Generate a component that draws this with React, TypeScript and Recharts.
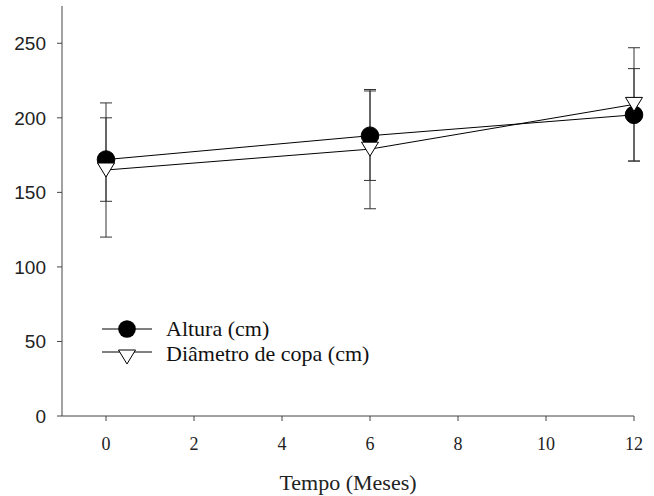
import React from "react";
import {
  LineChart,
  Line,
  XAxis,
  YAxis,
  ErrorBar,
  Legend,
} from "recharts";

const months = [0, 6, 12];
const altura = [172, 188, 202];
const alturaErr = [28, 30, 31];
const copa = [165, 179, 209];
const copaErr = [45, 40, 38];

const xTicks = [0, 2, 4, 6, 8, 10, 12];
const yTicks = [0, 50, 100, 150, 200, 250];

const data = months.map((m, i) => ({
  mes: m,
  altura: altura[i],
  alturaErr: alturaErr[i],
  copa: copa[i],
  copaErr: copaErr[i],
}));

const AXIS = "#444";
const SERIF = "'Liberation Serif', 'Times New Roman', serif";
const SANS = "'Liberation Sans', Arial, sans-serif";

function CircleDot(props: any) {
  const { cx, cy, index } = props;
  if (cx == null || cy == null) return null;
  return <circle key={`c-${index}`} cx={cx} cy={cy} r={8.8} fill="#000" stroke="#000" />;
}

function triPoints(cx: number, cy: number) {
  return `${cx - 8.5},${cy - 7} ${cx + 8.5},${cy - 7} ${cx},${cy + 7}`;
}

function TriangleDot(props: any) {
  const { cx, cy, index } = props;
  if (cx == null || cy == null) return null;
  return (
    <polygon
      key={`t-${index}`}
      points={triPoints(cx, cy)}
      fill="#fff"
      stroke="#000"
      strokeWidth={1}
    />
  );
}

function LegendBox() {
  return (
    <svg width={340} height={64} style={{ display: "block" }}>
      <line x1={7} y1={13} x2={57} y2={13} stroke="#000" strokeWidth={1} />
      <circle cx={32} cy={13} r={8.8} fill="#000" />
      <text x={71} y={20} fontFamily={SERIF} fontSize={22} fill="#111">
        Altura (cm)
      </text>
      <line x1={7} y1={36} x2={57} y2={36} stroke="#000" strokeWidth={1} />
      <polygon points={triPoints(32, 41)} fill="#fff" stroke="#000" />
      <text x={71} y={45} fontFamily={SERIF} fontSize={22} fill="#111">
        Diâmetro de copa (cm)
      </text>
    </svg>
  );
}

export default function App() {
  return (
    <div style={{ position: "absolute", left: 0, top: 0, background: "#fff" }}>
      <LineChart
        width={654}
        height={496}
        data={data}
        margin={{ top: 6, right: 20, bottom: 0, left: 0 }}
      >
        <XAxis
          dataKey="mes"
          type="number"
          domain={[-1, 12]}
          ticks={xTicks}
          height={80}
          tickSize={5}
          tickMargin={16}
          stroke={AXIS}
          tick={{ fill: "#222", fontFamily: SERIF, fontSize: 18 }}
          label={{
            value: "Tempo (Meses)",
            position: "insideBottom",
            offset: 6,
            fill: "#222",
            fontFamily: SERIF,
            fontSize: 22,
          }}
        />
        <YAxis
          type="number"
          domain={[0, 275]}
          ticks={yTicks}
          width={62}
          tickSize={5}
          tickMargin={11}
          stroke={AXIS}
          tick={{ fill: "#222", fontFamily: SANS, fontSize: 19 }}
        />
        <Legend
          layout="vertical"
          align="center"
          verticalAlign="middle"
          wrapperStyle={{ left: 95, top: 316, width: 340 }}
          content={() => <LegendBox />}
        />
        <Line
          dataKey="altura"
          name="Altura (cm)"
          stroke="#000"
          strokeWidth={1}
          dot={CircleDot}
          activeDot={false}
          isAnimationActive={false}
        >
          <ErrorBar dataKey="alturaErr" width={6} stroke="#333" strokeWidth={1} direction="y" />
        </Line>
        <Line
          dataKey="copa"
          name="Diâmetro de copa (cm)"
          stroke="#000"
          strokeWidth={1}
          dot={TriangleDot}
          activeDot={false}
          isAnimationActive={false}
        >
          <ErrorBar dataKey="copaErr" width={6} stroke="#333" strokeWidth={1} direction="y" />
        </Line>
      </LineChart>
    </div>
  );
}
